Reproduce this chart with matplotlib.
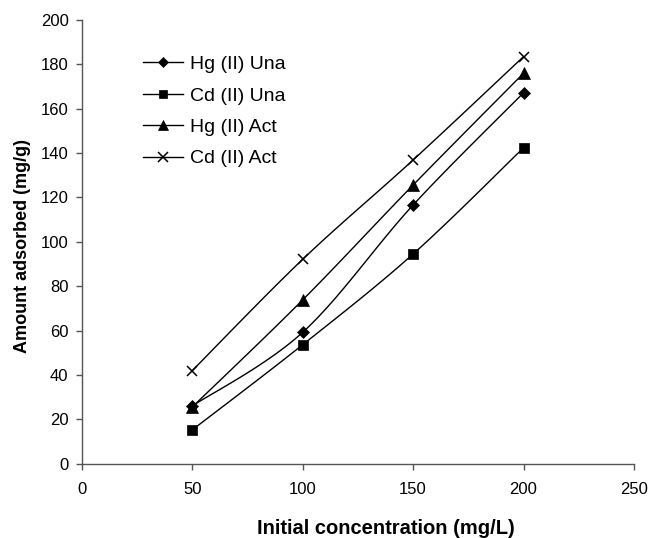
import numpy as np
import matplotlib
matplotlib.use("Agg")
import matplotlib.pyplot as plt
from matplotlib.lines import Line2D

plt.rcParams['font.family'] = ['Liberation Sans', 'DejaVu Sans']

concentration = [50, 100, 150, 200]
hg_una = [26, 59.2, 116.6, 167.2]
cd_una = [15.2, 53.6, 94.5, 142.4]
hg_act = [25.5, 73.8, 125.6, 176]
cd_act = [41.9, 92.1, 136.9, 183.5]

series = [
    ("Hg (II) Una", hg_una, "D", 6.5, 5.0),
    ("Cd (II) Una", cd_una, "s", 6.5, 5.5),
    ("Hg (II) Act", hg_act, "^", 8, 6.5),
    ("Cd (II) Act", cd_act, "x", 7.5, 6.5),
]


def smooth(xs, ys, n=40):
    """Excel-like smoothed line: cubic Bezier with Catmull-Rom tangents."""
    xs = np.asarray(xs, float)
    ys = np.asarray(ys, float)
    px, py = [], []
    m = len(xs)
    for i in range(m - 1):
        x0, y0 = xs[max(i - 1, 0)], ys[max(i - 1, 0)]
        x1, y1 = xs[i], ys[i]
        x2, y2 = xs[i + 1], ys[i + 1]
        x3, y3 = xs[min(i + 2, m - 1)], ys[min(i + 2, m - 1)]
        c1x, c1y = x1 + (x2 - x0) / 6, y1 + (y2 - y0) / 6
        c2x, c2y = x2 - (x3 - x1) / 6, y2 - (y3 - y1) / 6
        t = np.linspace(0, 1, n)
        bx = (1 - t) ** 3 * x1 + 3 * (1 - t) ** 2 * t * c1x + 3 * (1 - t) * t ** 2 * c2x + t ** 3 * x2
        by = (1 - t) ** 3 * y1 + 3 * (1 - t) ** 2 * t * c1y + 3 * (1 - t) * t ** 2 * c2y + t ** 3 * y2
        px.extend(bx)
        py.extend(by)
    return np.array(px), np.array(py)


W, H = 649, 538
fig = plt.figure(figsize=(W / 100, H / 100), dpi=100)
x0, x1, y_top, y_bot = 81.7, 634, 20, 463.7
ax = fig.add_axes([x0 / W, 1 - y_bot / H, (x1 - x0) / W, (y_bot - y_top) / H])

handles = []
for label, ys, mk, ms, lms in series:
    sx, sy = smooth(concentration, ys)
    ax.plot(sx, sy, color='black', lw=1.0, zorder=2)
    mew = 1.1 if mk == 'x' else 0.5
    ax.plot(concentration, ys, linestyle='none', marker=mk, color='black',
            markersize=ms, markeredgewidth=mew, zorder=3, clip_on=False)
    handles.append(Line2D([0], [0], color='black', lw=1.0, marker=mk,
                          markersize=lms, markeredgewidth=mew))

ax.set_xlim(0, 250)
ax.set_ylim(0, 200)
ax.set_xticks([0, 50, 100, 150, 200, 250])
ax.set_yticks(np.arange(0, 201, 20))
ax.spines['top'].set_visible(False)
ax.spines['right'].set_visible(False)
for s in ('left', 'bottom'):
    ax.spines[s].set_color('#555555')
    ax.spines[s].set_linewidth(1.0)
ax.tick_params(direction='out', length=4, width=1, color='#555555', labelsize=12)
ax.tick_params(axis='x', pad=9)
ax.tick_params(axis='y', pad=5.5)

ax.set_xlabel('Initial concentration (mg/L)', fontsize=14.5, fontweight='bold')
ax.xaxis.set_label_coords((386 - x0) / (x1 - x0), (y_bot - 528) / (y_bot - y_top))
ax.xaxis.label.set_va('center')
ax.set_ylabel('Amount adsorbed (mg/g)', fontsize=13, fontweight='bold')
ax.yaxis.set_label_coords((22 - x0) / (x1 - x0), (y_bot - 246) / (y_bot - y_top))
ax.yaxis.label.set_va('center')

leg = ax.legend(handles, [s[0] for s in series], loc='upper left',
                bbox_to_anchor=((142.7 - x0) / (x1 - x0), (y_bot - 55.5) / (y_bot - y_top)),
                frameon=False, fontsize=14, borderpad=0, borderaxespad=0,
                handlelength=2.09, handletextpad=0.34, labelspacing=0.71)

fig.savefig('out.png', dpi=100)
